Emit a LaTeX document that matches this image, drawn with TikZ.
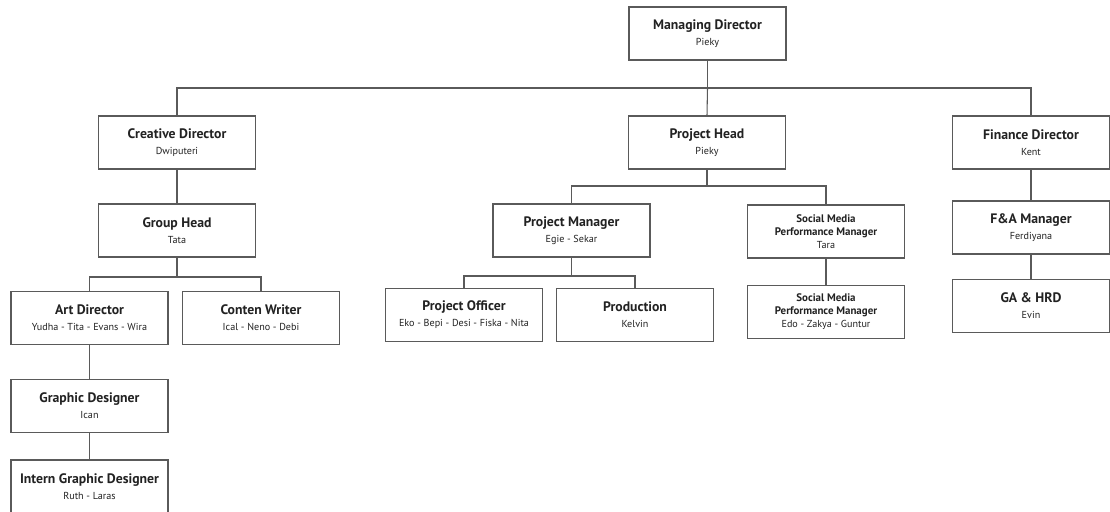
\documentclass[tikz,border=0pt]{standalone}
\usepackage{fontspec}
\setmainfont{PT Sans}
\definecolor{linegray}{HTML}{5A5A5A}
\definecolor{txtgray}{HTML}{222222}
\newcommand\postitle[1]{{\bfseries\fontsize{10.3}{12.5}\selectfont #1}}
\newcommand\possmall[1]{{\bfseries\fontsize{8.2}{9.6}\selectfont #1}}
\newcommand\posname[1]{{\fontsize{7.6}{9.4}\selectfont #1}}
\tikzset{
	posbox/.style={draw=linegray, line width=0.8pt, fill=white, text=txtgray,
		minimum width=117.75pt, minimum height=39.75pt, inner sep=1pt, align=center},
	smallbox/.style={posbox, font=\fontsize{8.2}{9.8}\selectfont},
	conn/.style={draw=linegray, line width=0.8pt}
}
\begin{document}
\begin{tikzpicture}[x=0.75pt,y=-0.75pt]
				\useasboundingbox[fill=white] (0,0) rectangle (1110,511);

	% top level
	\node[posbox] (md) at (707.5,33.5) {\postitle{Managing Director}\\\posname{Pieky}};
	\node[posbox] (cd) at (177,142.5) {\postitle{Creative Director}\\\posname{Dwiputeri}};
	\node[posbox] (ph) at (707,142.5) {\postitle{Project Head}\\\posname{Pieky}};
	\node[posbox] (fd) at (1031,142.5) {\postitle{Finance Director}\\\posname{Kent}};

	% creative branch
	\node[posbox] (gh) at (177,230.5) {\postitle{Group Head}\\\posname{Tata}};
	\node[posbox] (ad) at (89.5,318) {\postitle{Art Director}\\\posname{Yudha - Tita - Evans - Wira}};
	\node[posbox] (cw) at (261,318) {\postitle{Conten Writer}\\\posname{Ical - Neno - Debi}};
	\node[posbox] (gd) at (89.5,406) {\postitle{Graphic Designer}\\\posname{Ican}};
	\node[posbox] (igd) at (89.5,486.5) {\postitle{Intern Graphic Designer}\\\posname{Ruth - Laras}};

	% project branch
	\node[posbox] (pm) at (571.5,230.5) {\postitle{Project Manager}\\\posname{Egie - Sekar}};
	\node[smallbox] (smpm) at (826,231.5) {\possmall{Social Media}\\\possmall{Performance Manager}\\\posname{Tara}};
	\node[posbox] (po) at (464,315) {\postitle{Project Officer}\\\posname{Eko - Bepi - Desi - Fiska - Nita}};
	\node[posbox] (prod) at (635,315) {\postitle{Production}\\\posname{Kelvin}};
	\node[smallbox] (smpmb) at (826,312) {\possmall{Social Media}\\\possmall{Performance Manager}\\\posname{Edo - Zakya - Guntur}};

	% finance branch
	\node[posbox] (fa) at (1031,227.5) {\postitle{F\&A Manager}\\\posname{Ferdiyana}};
	\node[posbox] (ga) at (1031,306) {\postitle{GA \& HRD}\\\posname{Evin}};

	\coordinate (busa) at (0,88);
	\coordinate (busb) at (0,186);
	\coordinate (busc) at (0,277);
	\coordinate (busd) at (0,276);

	\draw[conn] (md.south) -- (md |- busa);
	\draw[conn] (cd.north) |- (md |- busa) -| (fd.north);
	\draw[conn] (md |- busa) -- (ph.north);

	\draw[conn] (cd) -- (gh);
	\draw[conn] (gh.south) -- (gh |- busc);
	\draw[conn] (ad.north) |- (gh |- busc) -| (cw.north);
	\draw[conn] (ad) -- (gd);
	\draw[conn] (gd) -- (igd);

	\draw[conn] (ph.south) -- (ph |- busb);
	\draw[conn] (pm.north) |- (ph |- busb) -| (smpm.north);
	\draw[conn] (pm.south) -- (pm |- busd);
	\draw[conn] (po.north) |- (pm |- busd) -| (prod.north);
	\draw[conn] (smpm) -- (smpmb);

	\draw[conn] (fd) -- (fa);
	\draw[conn] (fa) -- (ga);

\end{tikzpicture}
\end{document}
